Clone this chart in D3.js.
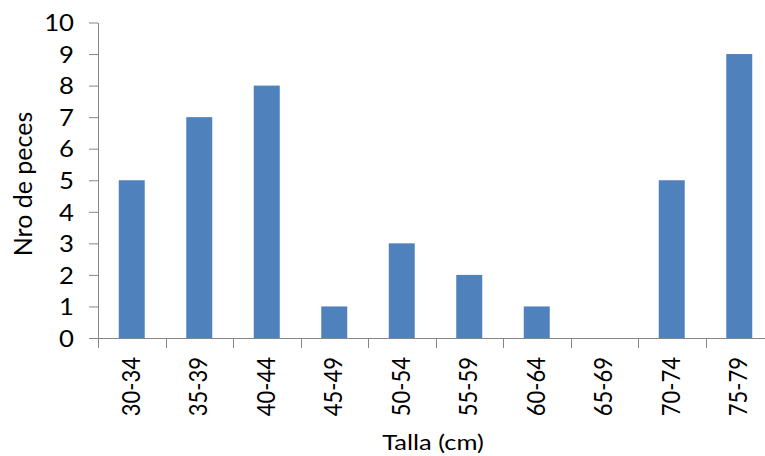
<!DOCTYPE html>
<html>
<head>
<meta charset="utf-8">
<script src="https://cdn.jsdelivr.net/npm/d3@7"></script>
<style>
  html, body { margin: 0; padding: 0; background: #fff; }
  svg { display: block; }
  text { font-family: Lato, "Open Sans", sans-serif; fill: #000; }
</style>
</head>
<body>
<svg id="chart" width="765" height="456"></svg>
<script>
// Size classes (cm) and number of fish in each
const categories = ["30-34", "35-39", "40-44", "45-49", "50-54", "55-59", "60-64", "65-69", "70-74", "75-79"];
const counts = [5, 7, 8, 1, 3, 2, 1, 0, 5, 9];
const yTicks = [0, 1, 2, 3, 4, 5, 6, 7, 8, 9, 10];

const svg = d3.select("#chart");
const axisColor = "#868686";
const barColor = "#4f81bd";

const x = d3.scaleBand()
  .domain(categories)
  .range([98, 773])
  .paddingInner(0.615)
  .paddingOuter(0.3075);

const y = d3.scaleLinear()
  .domain([0, 10])
  .range([338, 22.5]);

// Bars
svg.append("g")
  .selectAll("rect")
  .data(categories.map((c, i) => ({ c, v: counts[i] })))
  .join("rect")
  .attr("x", d => x(d.c))
  .attr("y", d => y(d.v))
  .attr("width", x.bandwidth())
  .attr("height", d => y(0) - y(d.v))
  .attr("fill", barColor);

// Y axis
const yAxis = svg.append("g")
  .attr("transform", "translate(98,0)")
  .call(d3.axisLeft(y).tickValues(yTicks).tickFormat(d3.format("d")).tickSize(9).tickSizeOuter(0));
yAxis.select(".domain").attr("stroke", axisColor);
yAxis.selectAll(".tick line").attr("stroke", axisColor);
yAxis.selectAll(".tick text")
  .attr("x", 0)
  .attr("dy", "0.36em")
  .attr("transform", "translate(-24,0) scale(1.12,1)")
  .attr("font-size", 23)
  .attr("fill", "#000")
  .attr("font-family", "Lato, 'Open Sans', sans-serif");

// X axis: ticks sit on the band boundaries
const xAxisG = svg.append("g").attr("transform", `translate(0,${y(0)})`);
xAxisG.append("line")
  .attr("x1", 98).attr("x2", 773)
  .attr("y1", 0.5).attr("y2", 0.5)
  .attr("stroke", axisColor);
const step = x.step();
const boundaries = d3.range(categories.length + 1).map(i => 98 + i * step);
xAxisG.selectAll("line.tk")
  .data(boundaries)
  .join("line")
  .attr("class", "tk")
  .attr("x1", d => Math.round(d) + 0.5).attr("x2", d => Math.round(d) + 0.5)
  .attr("y1", 0).attr("y2", 10)
  .attr("stroke", axisColor);
xAxisG.selectAll("text.lbl")
  .data(categories)
  .join("text")
  .attr("class", "lbl")
  .attr("transform", d => `translate(${x(d) + x.bandwidth() / 2 + 8},19) scale(1.15,1) rotate(-90)`)
  .attr("text-anchor", "end")
  .attr("font-size", 22)
  .text(d => d);

// Axis titles
svg.append("text")
  .attr("transform", "translate(433,450) scale(1.16,1)")
  .attr("text-anchor", "middle")
  .attr("font-size", 22)
  .text("Talla (cm)");

svg.append("text")
  .attr("transform", "translate(32,184) rotate(-90)")
  .attr("text-anchor", "middle")
  .attr("font-size", 25)
  .text("Nro de peces");
</script>
</body>
</html>
